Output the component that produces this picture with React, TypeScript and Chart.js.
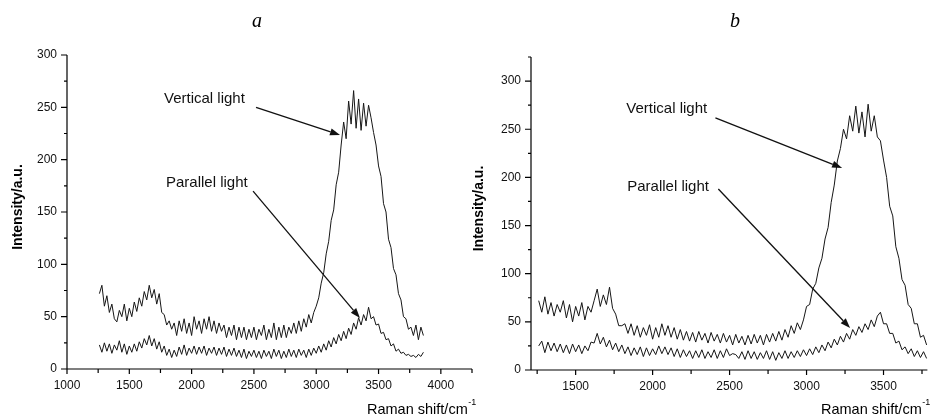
import React, { useEffect, useRef } from 'react';
import { Chart, registerables } from 'chart.js';

Chart.register(...registerables);

const SANS = '"Liberation Sans", Arial, Helvetica, sans-serif';
const SERIF = '"Liberation Serif", "Times New Roman", serif';

// ---------- Panel a data (Raman shift / cm-1, intensity / a.u.) ----------
const X_A = [
  1260, 1280, 1300, 1320, 1340, 1360, 1380, 1400, 1420, 1440,
  1460, 1480, 1500, 1520, 1540, 1560, 1580, 1600, 1620, 1640,
  1660, 1680, 1700, 1720, 1740, 1760, 1780, 1800, 1820, 1840,
  1860, 1880, 1900, 1920, 1940, 1960, 1980, 2000, 2020, 2040,
  2060, 2080, 2100, 2120, 2140, 2160, 2180, 2200, 2220, 2240,
  2260, 2280, 2300, 2320, 2340, 2360, 2380, 2400, 2420, 2440,
  2460, 2480, 2500, 2520, 2540, 2560, 2580, 2600, 2620, 2640,
  2660, 2680, 2700, 2720, 2740, 2760, 2780, 2800, 2820, 2840,
  2860, 2880, 2900, 2920, 2940, 2960, 2980, 3000, 3020, 3040,
  3060, 3080, 3100, 3120, 3140, 3160, 3180, 3200, 3220, 3240,
  3260, 3280, 3300, 3320, 3340, 3360, 3380, 3400, 3420, 3440,
  3460, 3480, 3500, 3520, 3540, 3560, 3580, 3600, 3620, 3640,
  3660, 3680, 3700, 3720, 3740, 3760, 3780, 3800, 3820, 3840,
  3860,
];
const VERTICAL_A = [
  72, 80, 60, 70, 54, 62, 48, 45, 56, 50,
  62, 46, 58, 50, 64, 55, 68, 60, 74, 66,
  80, 68, 76, 62, 72, 54, 52, 42, 46, 38,
  44, 32, 46, 36, 48, 34, 44, 32, 50, 38,
  46, 34, 48, 38, 50, 36, 46, 34, 44, 36,
  42, 30, 40, 32, 42, 28, 40, 30, 40, 28,
  38, 30, 40, 28, 38, 32, 42, 28, 38, 30,
  44, 28, 40, 30, 42, 30, 40, 34, 44, 34,
  46, 36, 48, 40, 52, 44, 54, 60, 68, 82,
  92, 110, 122, 142, 152, 176, 188, 214, 236, 220,
  256, 234, 266, 230, 258, 228, 254, 232, 252, 240,
  226, 214, 194, 184, 158, 150, 124, 116, 96, 90,
  72, 66, 50, 48, 38, 40, 32, 42, 28, 40,
  32,
];
const PARALLEL_A = [
  23, 16, 25, 17, 24, 15, 23, 18, 27, 16,
  24, 14, 22, 16, 24, 17, 26, 20, 29, 23,
  32, 22, 29, 19, 26, 16, 22, 13, 19, 11,
  18, 12, 21, 14, 23, 13, 20, 15, 22, 14,
  21, 15, 22, 13, 20, 15, 21, 13, 20, 14,
  21, 12, 19, 13, 20, 12, 18, 11, 19, 10,
  17, 12, 18, 11, 17, 10, 18, 12, 17, 10,
  19, 12, 18, 10, 17, 11, 19, 12, 18, 11,
  19, 13, 18, 11, 19, 13, 20, 15, 22, 16,
  24, 18, 27, 21, 30, 24, 33, 27, 36, 29,
  39, 33, 44, 38, 49, 42, 52, 46, 59, 48,
  50, 42, 43, 34, 35, 28, 29, 22, 24, 17,
  19, 15, 16, 13, 14, 12, 13, 11, 14, 12,
  16,
];

// ---------- Panel b data ----------
const X_B = [
  1260, 1280, 1300, 1320, 1340, 1360, 1380, 1400, 1420, 1440,
  1460, 1480, 1500, 1520, 1540, 1560, 1580, 1600, 1620, 1640,
  1660, 1680, 1700, 1720, 1740, 1760, 1780, 1800, 1820, 1840,
  1860, 1880, 1900, 1920, 1940, 1960, 1980, 2000, 2020, 2040,
  2060, 2080, 2100, 2120, 2140, 2160, 2180, 2200, 2220, 2240,
  2260, 2280, 2300, 2320, 2340, 2360, 2380, 2400, 2420, 2440,
  2460, 2480, 2500, 2520, 2540, 2560, 2580, 2600, 2620, 2640,
  2660, 2680, 2700, 2720, 2740, 2760, 2780, 2800, 2820, 2840,
  2860, 2880, 2900, 2920, 2940, 2960, 2980, 3000, 3020, 3040,
  3060, 3080, 3100, 3120, 3140, 3160, 3180, 3200, 3220, 3240,
  3260, 3280, 3300, 3320, 3340, 3360, 3380, 3400, 3420, 3440,
  3460, 3480, 3500, 3520, 3540, 3560, 3580, 3600, 3620, 3640,
  3660, 3680, 3700, 3720, 3740, 3760, 3780,
];
const VERTICAL_B = [
  72, 60, 76, 58, 70, 56, 68, 60, 72, 54,
  68, 50, 66, 56, 70, 52, 66, 60, 72, 84,
  66, 78, 68, 86, 64, 58, 46, 46, 48, 38,
  48, 36, 46, 34, 44, 36, 47, 32, 44, 34,
  48, 36, 46, 34, 44, 32, 42, 31, 40, 30,
  39, 29, 40, 31, 38, 28, 39, 30, 37, 28,
  38, 29, 36, 26, 37, 28, 35, 26, 36, 27,
  37, 28, 36, 26, 37, 29, 38, 30, 40, 31,
  42, 34, 46, 38, 49, 42, 52, 66, 68, 84,
  90, 106, 116, 136, 148, 174, 192, 217, 230, 250,
  240, 264, 248, 274, 246, 268, 242, 276, 248, 264,
  242, 238, 218, 200, 170, 160, 128, 116, 94, 88,
  68, 64, 48, 48, 34, 36, 26,
];
const PARALLEL_B = [
  25, 30, 18, 29, 20, 28, 19, 27, 18, 26,
  17, 27, 19, 26, 17, 25, 20, 29, 28, 38,
  27, 34, 24, 31, 21, 28, 19, 26, 17, 24,
  15, 23, 16, 24, 14, 23, 15, 22, 16, 25,
  17, 24, 16, 23, 14, 22, 13, 21, 14, 20,
  12, 20, 13, 21, 12, 19, 13, 21, 12, 20,
  13, 22, 15, 17, 16, 12, 19, 11, 20, 12,
  19, 11, 18, 12, 20, 11, 19, 10, 18, 12,
  20, 12, 19, 13, 20, 14, 21, 15, 22, 16,
  24, 18, 26, 20, 29, 23, 32, 26, 35, 29,
  38, 32, 42, 36, 45, 39, 48, 42, 52, 45,
  56, 60, 48, 48, 38, 38, 28, 30, 21, 24,
  17, 22, 14, 20, 13, 19, 12,
];

// ---------- Tick labels ----------
const X_LABELS_A = [1000, 1500, 2000, 2500, 3000, 3500, 4000];
const X_LABELS_B = [1500, 2000, 2500, 3000, 3500];
const Y_LABELS = [0, 50, 100, 150, 200, 250, 300];

// ---------- Annotations (text and arrows, in data units) ----------
const NOTES_A = [
  { text: 'Vertical light', tx: 1778, ty: 258, x1: 2517, y1: 250, x2: 3191, y2: 223.6 },
  { text: 'Parallel light', tx: 1794, ty: 177.7, x1: 2493, y1: 170, x2: 3351, y2: 48.7 },
];
const NOTES_B = [
  { text: 'Vertical light', tx: 1829, ty: 271, x1: 2408, y1: 261.7, x2: 3231, y2: 209.7 },
  { text: 'Parallel light', tx: 1835, ty: 190, x1: 2427, y1: 188, x2: 3283, y2: 43.6 },
];

type Note = { text: string; tx: number; ty: number; x1: number; y1: number; x2: number; y2: number };
type PanelCfg = {
  key: string;
  letter: string;
  left: number;
  width: number;
  xs: number[];
  vert: number[];
  par: number[];
  xMin: number;
  xMax: number;
  yMax: number;
  xLabels: number[];
  yLabels: number[];
  notes: Note[];
  padTop: number;
  padRight: number;
  yWidth: number;
  xHeight: number;
  letterX: number;
  yTitleX: number;
  xTitleLeft: number;
};

const PANELS: PanelCfg[] = [
  {
    key: 'a', letter: 'a', left: 0, width: 490,
    xs: X_A, vert: VERTICAL_A, par: PARALLEL_A,
    xMin: 1000, xMax: 4250, yMax: 300,
    xLabels: X_LABELS_A, yLabels: Y_LABELS, notes: NOTES_A,
    padTop: 55, padRight: 18, yWidth: 67, xHeight: 49,
    letterX: 257, yTitleX: 18, xTitleLeft: 367,
  },
  {
    key: 'b', letter: 'b', left: 460, width: 471,
    xs: X_B, vert: VERTICAL_B, par: PARALLEL_B,
    xMin: 1210, xMax: 3785, yMax: 325,
    xLabels: X_LABELS_B, yLabels: Y_LABELS, notes: NOTES_B,
    padTop: 57, padRight: 0, yWidth: 71, xHeight: 48,
    letterX: 275, yTitleX: 19, xTitleLeft: 361,
  },
];

function decorPlugin(cfg: PanelCfg) {
  return {
    id: 'decor_' + cfg.key,
    afterDraw(chart: any) {
      const { ctx, chartArea } = chart;
      const { left, right, top, bottom } = chartArea;
      const xs = chart.scales.x;
      const ys = chart.scales.y;
      ctx.save();

      // axis lines and ticks
      ctx.strokeStyle = '#000';
      ctx.lineWidth = 1.2;
      ctx.beginPath();
      ctx.moveTo(left, top);
      ctx.lineTo(left, bottom);
      ctx.lineTo(right, bottom);
      ys.ticks.forEach((t: any) => {
        const py = ys.getPixelForValue(t.value);
        const len = cfg.yLabels.includes(t.value) ? 6 : 3;
        ctx.moveTo(left - len, py);
        ctx.lineTo(left, py);
      });
      xs.ticks.forEach((t: any) => {
        const px = xs.getPixelForValue(t.value);
        const len = cfg.xLabels.includes(t.value) ? 5 : 4;
        ctx.moveTo(px, bottom);
        ctx.lineTo(px, bottom + len);
      });
      ctx.stroke();

      // annotations
      ctx.fillStyle = '#111';
      ctx.strokeStyle = '#111';
      ctx.font = '15px ' + SANS;
      ctx.textAlign = 'left';
      ctx.textBaseline = 'middle';
      cfg.notes.forEach((n) => {
        ctx.fillText(n.text, xs.getPixelForValue(n.tx), ys.getPixelForValue(n.ty));
        const ax = xs.getPixelForValue(n.x1);
        const ay = ys.getPixelForValue(n.y1);
        const bx = xs.getPixelForValue(n.x2);
        const by = ys.getPixelForValue(n.y2);
        const ang = Math.atan2(by - ay, bx - ax);
        const headLen = 10;
        const headHalf = 3.5;
        const hx = bx - headLen * Math.cos(ang);
        const hy = by - headLen * Math.sin(ang);
        ctx.lineWidth = 1.3;
        ctx.beginPath();
        ctx.moveTo(ax, ay);
        ctx.lineTo(hx, hy);
        ctx.stroke();
        ctx.beginPath();
        ctx.moveTo(bx, by);
        ctx.lineTo(hx + headHalf * Math.sin(ang), hy - headHalf * Math.cos(ang));
        ctx.lineTo(hx - headHalf * Math.sin(ang), hy + headHalf * Math.cos(ang));
        ctx.closePath();
        ctx.fill();
      });

      // panel letter
      ctx.fillStyle = '#000';
      ctx.font = 'italic 20px ' + SERIF;
      ctx.textAlign = 'center';
      ctx.textBaseline = 'alphabetic';
      ctx.fillText(cfg.letter, cfg.letterX, 27);

      // y axis title
      ctx.save();
      ctx.translate(cfg.yTitleX, (top + bottom) / 2 - 5);
      ctx.rotate(-Math.PI / 2);
      ctx.font = 'bold 14px ' + SANS;
      ctx.textAlign = 'center';
      ctx.textBaseline = 'middle';
      ctx.fillText('Intensity/a.u.', 0, 0);
      ctx.restore();

      // x axis title with superscript
      ctx.font = '14.5px ' + SANS;
      ctx.textAlign = 'left';
      ctx.textBaseline = 'alphabetic';
      const main = 'Raman shift/cm';
      ctx.fillText(main, cfg.xTitleLeft, 414);
      const w = ctx.measureText(main).width;
      ctx.font = '9px ' + SANS;
      ctx.fillText('-1', cfg.xTitleLeft + w + 0.5, 405);

      ctx.restore();
    },
  };
}

function Panel({ cfg }: { cfg: PanelCfg }) {
  const ref = useRef<HTMLCanvasElement | null>(null);
  useEffect(() => {
    if (!ref.current) return;
    const tickFont = { family: SANS, size: 12 };
    const chart = new Chart(ref.current, {
      type: 'line',
      data: {
        datasets: [
          {
            label: 'Vertical light',
            data: cfg.xs.map((x, i) => ({ x, y: cfg.vert[i] })),
            borderColor: '#161616',
            borderWidth: 1,
            pointRadius: 0,
            tension: 0,
            fill: false,
          },
          {
            label: 'Parallel light',
            data: cfg.xs.map((x, i) => ({ x, y: cfg.par[i] })),
            borderColor: '#161616',
            borderWidth: 1,
            pointRadius: 0,
            tension: 0,
            fill: false,
          },
        ],
      },
      options: {
        animation: false,
        responsive: false,
        events: [],
        layout: { padding: { left: 0, right: cfg.padRight, top: cfg.padTop, bottom: 0 } },
        plugins: {
          legend: { display: false },
          tooltip: { enabled: false },
          title: { display: false },
        },
        scales: {
          x: {
            type: 'linear',
            min: cfg.xMin,
            max: cfg.xMax,
            grid: { display: false, drawTicks: false },
            border: { display: false },
            ticks: {
              stepSize: 250,
              includeBounds: false,
              autoSkip: false,
              maxRotation: 0,
              minRotation: 0,
              padding: 9,
              color: '#111',
              font: tickFont,
              callback: (v: any) => (cfg.xLabels.includes(Number(v)) ? String(v) : ''),
            },
            afterFit: (s: any) => {
              s.height = cfg.xHeight;
            },
          },
          y: {
            type: 'linear',
            min: 0,
            max: cfg.yMax,
            grid: { display: false, drawTicks: false },
            border: { display: false },
            ticks: {
              stepSize: 25,
              includeBounds: false,
              autoSkip: false,
              padding: 10,
              color: '#111',
              font: tickFont,
              callback: (v: any) => (cfg.yLabels.includes(Number(v)) ? String(v) : ''),
            },
            afterFit: (s: any) => {
              s.width = cfg.yWidth;
            },
          },
        },
      },
      plugins: [decorPlugin(cfg)],
    } as any);
    return () => chart.destroy();
  }, [cfg]);
  return (
    <canvas
      ref={ref}
      width={cfg.width}
      height={418}
      style={{ position: 'absolute', left: cfg.left, top: 0, width: cfg.width, height: 418 }}
    />
  );
}

export default function App() {
  return (
    <div style={{ position: 'absolute', left: 0, top: 0, width: 931, height: 418, background: '#fff', overflow: 'hidden' }}>
      {PANELS.map((p) => (
        <Panel key={p.key} cfg={p} />
      ))}
    </div>
  );
}
